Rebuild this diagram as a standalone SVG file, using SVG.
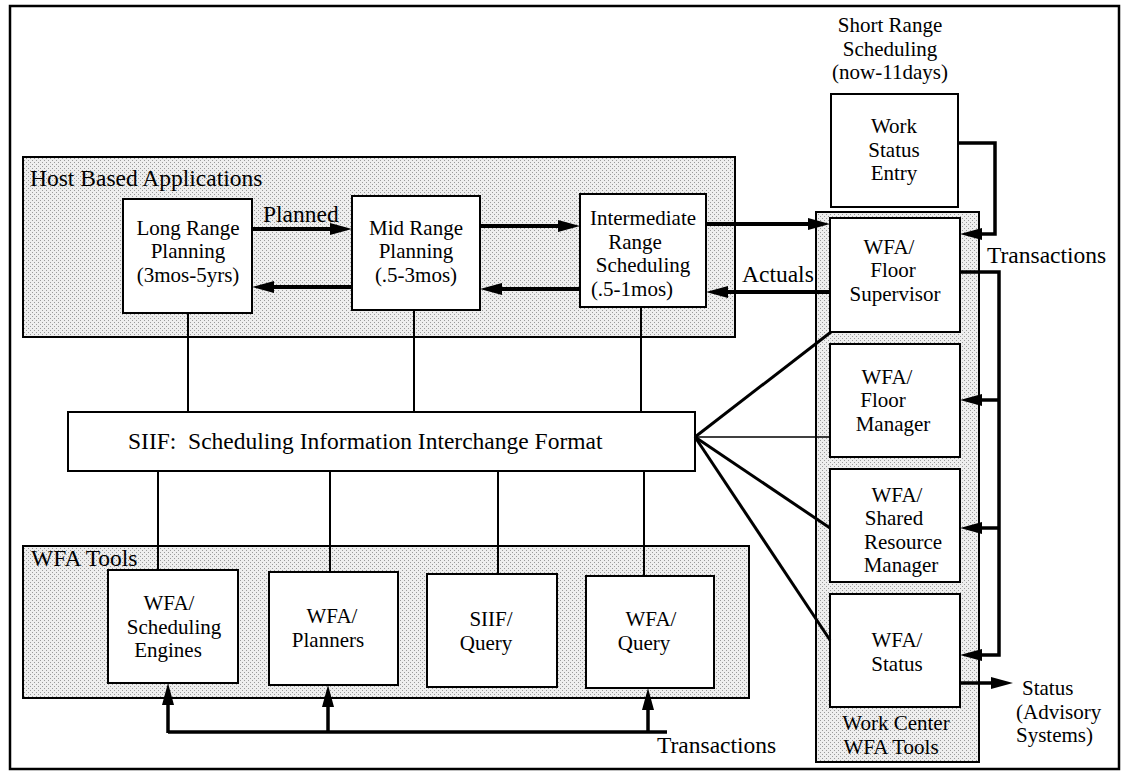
<svg xmlns="http://www.w3.org/2000/svg" width="1121" height="773" viewBox="0 0 1121 773">
<style>
text{font-family:"Liberation Serif","Times New Roman",serif;font-size:23.5px;fill:#000}
.m{font-size:21px}
.c{text-anchor:middle}
.box{fill:#fff;stroke:#000;stroke-width:2}
.grp{fill:url(#stip);stroke:#000;stroke-width:2}
.thin{fill:none;stroke:#000;stroke-width:2}
.hair{fill:none;stroke:#000;stroke-width:1.5}
.diag{fill:none;stroke:#000;stroke-width:3}
.arr{fill:none;stroke:#000;stroke-width:4;marker-end:url(#ah)}
.bus{fill:none;stroke:#000;stroke-width:3.5}
.busa{fill:none;stroke:#000;stroke-width:3.5;marker-end:url(#ah)}
</style>
<defs>
<pattern id="stip" width="4" height="4" patternUnits="userSpaceOnUse">
<rect width="4" height="4" fill="#eeeeee"/>
<rect x="0" y="0" width="1" height="1" fill="#9a9a9a"/>
<rect x="2" y="2" width="1" height="1" fill="#9a9a9a"/>
</pattern>
<marker id="ah" markerUnits="userSpaceOnUse" markerWidth="22" markerHeight="12" refX="10" refY="6" orient="auto">
<path d="M0,0 L22,6 L0,12 z" fill="#000"/>
</marker>
</defs>
<rect width="1121" height="773" fill="#fff"/>
<rect x="10" y="6" width="1109" height="763" fill="none" stroke="#000" stroke-width="2.5"/>

<g id="host-based-applications">
<rect class="grp" x="23" y="157" width="712" height="180"/>
<text x="30" y="186">Host Based Applications</text>
</g>
<g id="wfa-tools">
<rect class="grp" x="23" y="546" width="726" height="152"/>
<text x="31" y="566">WFA Tools</text>
</g>
<g id="work-center-wfa-tools">
<rect class="grp" x="816" y="212" width="163" height="550"/>
<text class="c m"><tspan x="896" y="730">Work Center</tspan><tspan x="891" y="754">WFA Tools</tspan></text>
</g>

<g id="long-range-planning">
<rect class="box" x="123" y="199" width="129" height="114"/>
<text class="c m"><tspan x="188" y="234.5">Long Range</tspan><tspan x="188" y="258">Planning</tspan><tspan x="188" y="281.5">(3mos-5yrs)</tspan></text>
</g>
<g id="mid-range-planning">
<rect class="box" x="352" y="196" width="128" height="114"/>
<text class="c m"><tspan x="416" y="234.5">Mid Range</tspan><tspan x="416" y="258">Planning</tspan><tspan x="416" y="281.5">(.5-3mos)</tspan></text>
</g>
<g id="intermediate-range-scheduling">
<rect class="box" x="580" y="194" width="126" height="113"/>
<text class="c m"><tspan x="643" y="225">Intermediate</tspan><tspan x="635" y="248.5">Range</tspan><tspan x="643" y="272">Scheduling</tspan><tspan x="632" y="295.5">(.5-1mos)</tspan></text>
</g>
<g id="short-range-scheduling">
<text class="c m"><tspan x="890" y="32">Short Range</tspan><tspan x="890" y="55.5">Scheduling</tspan><tspan x="890" y="79">(now-11days)</tspan></text>
</g>
<g id="work-status-entry">
<rect class="box" x="831" y="94" width="127" height="113"/>
<text class="c m"><tspan x="894" y="133">Work</tspan><tspan x="894" y="156.5">Status</tspan><tspan x="894" y="180">Entry</tspan></text>
</g>
<g id="wfa-floor-supervisor">
<rect class="box" x="830" y="218" width="130" height="114"/>
<text class="c m"><tspan x="889" y="253.5">WFA/</tspan><tspan x="893" y="277">Floor</tspan><tspan x="895" y="300.5">Supervisor</tspan></text>
</g>
<g id="wfa-floor-manager">
<rect class="box" x="830" y="344" width="130" height="113"/>
<text class="c m"><tspan x="887" y="383.5">WFA/</tspan><tspan x="883" y="407">Floor</tspan><tspan x="893" y="430.5">Manager</tspan></text>
</g>
<g id="wfa-shared-resource-manager">
<rect class="box" x="830" y="469" width="130" height="113"/>
<text class="c m"><tspan x="897" y="501.5">WFA/</tspan><tspan x="894" y="525">Shared</tspan><tspan x="903" y="548.5">Resource</tspan><tspan x="901" y="572">Manager</tspan></text>
</g>
<g id="wfa-status">
<rect class="box" x="830" y="594" width="130" height="113"/>
<text class="c m"><tspan x="897" y="647">WFA/</tspan><tspan x="897" y="671">Status</tspan></text>
</g>
<g id="siif">
<rect class="box" x="68" y="412" width="627" height="59"/>
<text x="128" y="449" xml:space="preserve">SIIF:  Scheduling Information Interchange Format</text>
</g>
<g id="wfa-scheduling-engines">
<rect class="box" x="108" y="570" width="130" height="113"/>
<text class="c m"><tspan x="169" y="610">WFA/</tspan><tspan x="174" y="633.5">Scheduling</tspan><tspan x="168" y="657">Engines</tspan></text>
</g>
<g id="wfa-planners">
<rect class="box" x="269" y="572" width="129" height="113"/>
<text class="c m"><tspan x="332" y="623">WFA/</tspan><tspan x="328" y="647">Planners</tspan></text>
</g>
<g id="siif-query">
<rect class="box" x="427" y="574" width="130" height="113"/>
<text class="c m"><tspan x="491" y="626">SIIF/</tspan><tspan x="486" y="650">Query</tspan></text>
</g>
<g id="wfa-query">
<rect class="box" x="586" y="576" width="128" height="112"/>
<text class="c m"><tspan x="651" y="626">WFA/</tspan><tspan x="644" y="650">Query</tspan></text>
</g>

<g id="connectors">
<path class="arr" d="M252,229 H340"/>
<path class="arr" d="M352,287 H264"/>
<path class="arr" d="M480,226 H568"/>
<path class="arr" d="M580,289 H492"/>
<path class="arr" d="M706,224 H818"/>
<path class="arr" d="M830,292 H718"/>
<text x="263" y="222">Planned</text>
<text x="742" y="282">Actuals</text>

<path class="thin" d="M188,313 V412"/>
<path class="thin" d="M414,310 V412"/>
<path class="thin" d="M641,307 V412"/>
<path class="thin" d="M158,471 V570"/>
<path class="thin" d="M330,471 V572"/>
<path class="thin" d="M498,471 V574"/>
<path class="thin" d="M644,471 V576"/>

<path class="diag" d="M695,437 L831,332"/>
<path class="hair" d="M695,437 H830"/>
<path class="diag" d="M695,437 L830,528"/>
<path class="diag" d="M695,437 L830,640"/>

<path class="busa" d="M958,143 H995 V234 H972"/>
<text x="987" y="263">Transactions</text>
<path class="busa" d="M960,272 H999 V655 H972"/>
<path class="busa" d="M999,400 H972"/>
<path class="busa" d="M999,528 H972"/>
<path class="busa" d="M960,683 H1001"/>
<text class="m"><tspan x="1022" y="695">Status</tspan><tspan x="1016" y="718.5">(Advisory</tspan><tspan x="1016" y="742">Systems)</tspan></text>

<path class="bus" d="M168,732 H667"/>
<path class="busa" d="M168,733 V695"/>
<path class="busa" d="M328,733 V697"/>
<path class="busa" d="M648,733 V700"/>
<text x="657" y="753">Transactions</text>
</g>
</svg>
